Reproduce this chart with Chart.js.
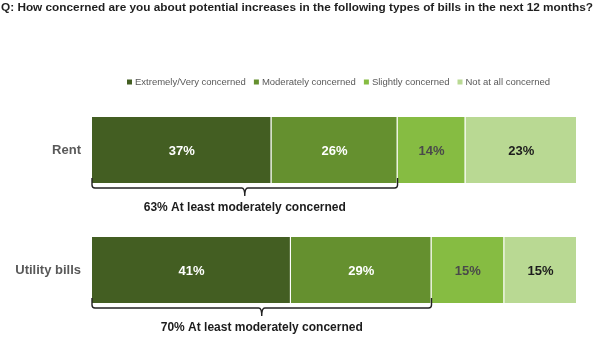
<!DOCTYPE html>
<html>
<head>
<meta charset="utf-8">
<script src="https://cdn.jsdelivr.net/npm/chart.js@4/dist/chart.umd.min.js"></script>
<style>
  html, body { margin: 0; padding: 0; background: #fff; }
  #wrap { width: 593px; height: 349px; position: relative; }
</style>
</head>
<body>
<div id="wrap"><canvas id="myChart"></canvas></div>
<script>
"use strict";

const titleText = 'Q: How concerned are you about potential increases in the following types of bills in the next 12 months?';
const categories = ['Rent', 'Utility bills'];
const seriesNames = ['Extremely/Very concerned', 'Moderately concerned', 'Slightly concerned', 'Not at all concerned'];
const extremely = [37, 41];
const moderately = [26, 29];
const slightly = [14, 15];
const notAtAll = [23, 15];
const atLeastModerately = [63, 70];
const bracketLabels = ['63% At least moderately concerned', '70% At least moderately concerned'];

const colors = ['#435e22', '#65902f', '#86bc42', '#b9d993'];
const labelColors = ['#ffffff', '#ffffff', '#4a4a4a', '#1c1c1c'];
const FONT = 'Liberation Sans, Arial, sans-serif';

// title, legend, value labels and brackets
const extras = {
  id: 'extras',
  afterDraw(chart) {
    const ctx = chart.ctx;
    const x = chart.scales.x;
    ctx.save();

    ctx.fillStyle = '#1f1f1f';
    ctx.font = 'bold 11.8px ' + FONT;
    ctx.textAlign = 'left';
    ctx.textBaseline = 'middle';
    ctx.fillText(titleText, 1, 8);

    // legend
    ctx.font = '9.5px ' + FONT;
    let lx = 127;
    const ly = 82;
    seriesNames.forEach((name, i) => {
      ctx.fillStyle = colors[i];
      ctx.fillRect(lx, ly - 2.5, 5, 5);
      lx += 8;
      ctx.fillStyle = '#595959';
      ctx.fillText(name, lx, ly);
      lx += ctx.measureText(name).width + 8;
    });

    // value labels
    ctx.font = 'bold 13px ' + FONT;
    ctx.textAlign = 'center';
    chart.data.datasets.forEach((ds, di) => {
      const meta = chart.getDatasetMeta(di);
      meta.data.forEach((bar, i) => {
        ctx.fillStyle = labelColors[di];
        ctx.fillText(ds.data[i] + '%', (bar.x + bar.base) / 2, bar.y + 1);
      });
    });

    // brackets
    const meta0 = chart.getDatasetMeta(0);
    ctx.strokeStyle = '#222';
    ctx.lineWidth = 1.4;
    meta0.data.forEach((bar, i) => {
      const bottom = bar.y + bar.height / 2;
      const x0 = x.getPixelForValue(0);
      const x1 = x.getPixelForValue(atLeastModerately[i]);
      const xm = (x0 + x1) / 2;
      const yb = bottom + 5;
      ctx.beginPath();
      ctx.moveTo(x0, bottom - 5);
      ctx.lineTo(x0, yb - 3);
      ctx.quadraticCurveTo(x0, yb, x0 + 3, yb);
      ctx.lineTo(xm - 3, yb);
      ctx.quadraticCurveTo(xm, yb, xm, yb + 8);
      ctx.moveTo(xm, yb + 8);
      ctx.quadraticCurveTo(xm, yb, xm + 3, yb);
      ctx.lineTo(x1 - 3, yb);
      ctx.quadraticCurveTo(x1, yb, x1, yb - 3);
      ctx.lineTo(x1, bottom - 5);
      ctx.stroke();

      ctx.fillStyle = '#1c1c1c';
      ctx.font = 'bold 12px ' + FONT;
      ctx.fillText(bracketLabels[i], xm, bottom + 25);
    });
    ctx.restore();
  }
};

const seriesValues = [extremely, moderately, slightly, notAtAll];

new Chart(document.getElementById('myChart'), {
  type: 'bar',
  data: {
    labels: categories,
    datasets: seriesValues.map((vals, i) => ({
      label: seriesNames[i],
      data: vals,
      backgroundColor: colors[i],
      borderColor: 'rgba(255,255,255,0.55)',
      borderWidth: { left: 0, right: 1, top: 0, bottom: 0 },
      borderSkipped: false,
      barPercentage: 0.55,
      categoryPercentage: 1
    }))
  },
  options: {
    indexAxis: 'y',
    responsive: true,
    maintainAspectRatio: false,
    animation: false,
    layout: { padding: { left: 0, right: 16, top: 90, bottom: 19 } },
    plugins: {
      legend: { display: false },
      title: { display: false },
      tooltip: { enabled: false }
    },
    scales: {
      x: { stacked: true, min: 0, max: 100, display: false },
      y: {
        stacked: true,
        grid: { display: false },
        border: { display: false },
        ticks: {
          color: '#595959',
          padding: 3,
          font: { family: FONT, size: 13, weight: 'bold' }
        },
        afterFit(scale) { scale.width = 92; }
      }
    }
  },
  plugins: [extras]
});
</script>
</body>
</html>
